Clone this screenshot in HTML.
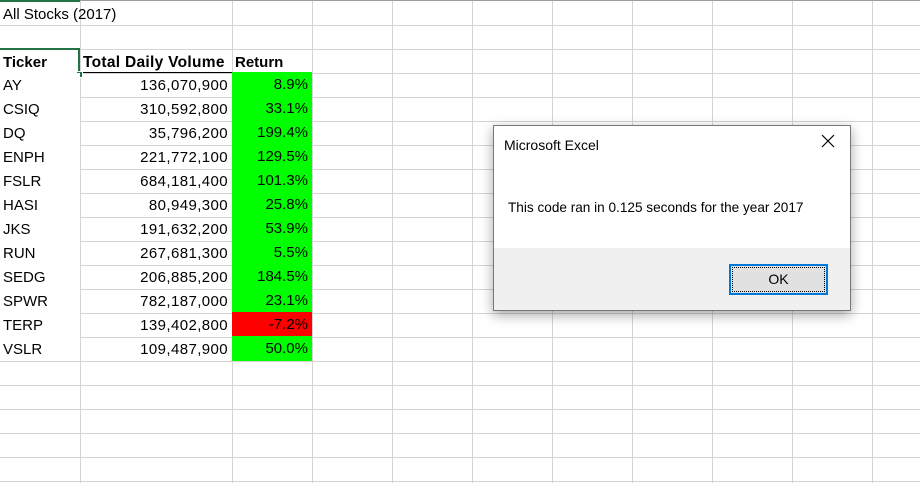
<!DOCTYPE html>
<html><head><meta charset="utf-8"><style>
body{margin:0;width:920px;height:483px;overflow:hidden;background:#fff;font-family:"Liberation Sans",sans-serif;position:relative}
.gv{position:absolute;top:0;width:1px;height:483px;background:#d4d4d4}
.gh{position:absolute;left:0;height:1px;width:920px;background:#d4d4d4}
.c{position:absolute;height:24px;line-height:25px;font-size:15px;color:#000;box-sizing:border-box;white-space:nowrap}
.r{text-align:right;padding-right:4px}
.l{padding-left:3px}
</style></head><body>
<div id="sheet"></div>
<div class="c l" style="left:0;top:2px;width:230px">All Stocks (2017)</div>
<div class="c l" style="left:0;top:50px;width:80px;font-weight:bold">Ticker</div>
<div class="c l" style="left:80px;top:50px;width:152px;font-weight:bold;font-size:15.5px;letter-spacing:0.3px">Total Daily Volume</div>
<div class="c l" style="left:232px;top:50px;width:80px;font-weight:bold">Return</div>
<div style="position:absolute;left:80px;top:72px;width:232px;height:1px;background:#000"></div>
<div style="position:absolute;left:0;top:48px;width:78px;height:24px;border:2px solid #217346;border-left:none"></div>
<div style="position:absolute;left:76px;top:71px;width:5px;height:5px;background:#217346;border:1px solid #fff"></div>
<div style="position:absolute;left:0;top:0;width:920px;height:1px;background:#9e9e9e"></div>
<div style="position:absolute;left:0;top:0;width:80px;height:2px;background:#217346"></div>

<div style="position:absolute;left:493px;top:125px;width:356px;height:184px;background:#fff;border:1px solid #777;box-shadow:0 4px 12px rgba(0,0,0,0.35)">
 <div style="position:absolute;left:10px;top:11px;font-size:14px">Microsoft Excel</div>
 <div style="position:absolute;left:327px;top:8px;width:14px;height:14px">
  <svg width="14" height="14" viewBox="0 0 14 14"><path d="M1 1L13 13M13 1L1 13" stroke="#000" stroke-width="1.2"/></svg>
 </div>
 <div style="position:absolute;left:14px;top:74px;font-size:13.6px">This code ran in 0.125 seconds for the year 2017</div>
 <div style="position:absolute;left:0;top:122px;width:356px;height:62px;background:#f0f0f0">
  <div style="position:absolute;left:235px;top:16px;width:99px;height:31px;border:2px solid #0078d7;background:#e1e1e1;box-sizing:border-box;text-align:center;line-height:27px;font-size:14px;outline:1px dotted #000;outline-offset:-4px">OK</div>
 </div>
</div>
<script>
const tickers=["AY","CSIQ","DQ","ENPH","FSLR","HASI","JKS","RUN","SEDG","SPWR","TERP","VSLR"];
const volumes=[136070900,310592800,35796200,221772100,684181400,80949300,191632200,267681300,206885200,782187000,139402800,109487900];
const returns=[8.9,33.1,199.4,129.5,101.3,25.8,53.9,5.5,184.5,23.1,-7.2,50.0];
const sheet=document.getElementById('sheet');
const cols=[80,232,312,392,472,552,632,712,792,872];
cols.forEach(x=>{const d=document.createElement('div');d.className='gv';d.style.left=x+'px';


sheet.appendChild(d);});
for(let y=25;y<483;y+=24){const d=document.createElement('div');d.className='gh';d.style.top=y+'px';


sheet.appendChild(d);}
const nf=new Intl.NumberFormat('en-US');
tickers.forEach((t,i)=>{
 const top=73+24*i;
 const a=document.createElement('div');a.className='c l';a.style.cssText+=`left:0;top:${top}px;width:80px;background:#fff`;a.textContent=t;
 
 
 document.body.appendChild(a);
 const b=document.createElement('div');b.className='c r';b.style.cssText+=`left:80px;top:${top}px;width:152px;letter-spacing:0.4px`;b.textContent=nf.format(volumes[i]);
 
 
 document.body.appendChild(b);
 const c=document.createElement('div');c.className='c r';const neg=returns[i]<0;
 c.style.cssText+=`left:232px;top:${top-1}px;width:80px;height:25px;background:${neg?'#ff0000':'#00ff00'}`;
 c.textContent=returns[i].toFixed(1)+'%';
 
 
 document.body.appendChild(c);
});
</script>
</body></html>
